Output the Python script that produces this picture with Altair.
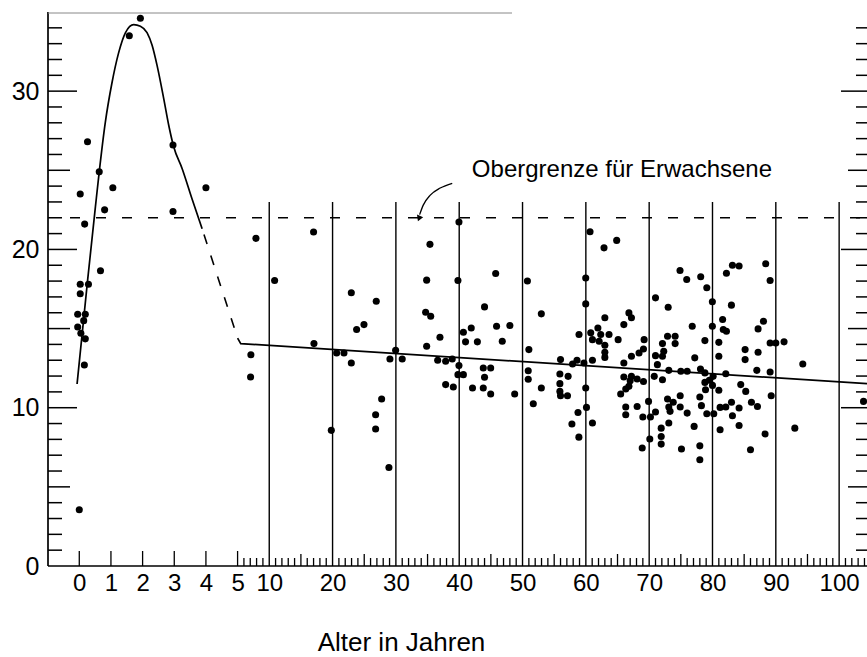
import altair as alt
import pandas as pd

FONT = "Liberation Sans"

# ---------------- data ----------------
infant_age = [0.0, -0.05, 0.19, 0.14, -0.05, 0.05, 0.19, 0.16, 0.03, 0.29, 0.03, 0.67,
              0.17, 0.80, 0.03, 1.06, 0.63, 0.26, 1.58, 1.93, 2.96, 2.96, 4.0]
infant_val = [3.55, 15.9, 15.9, 15.5, 15.1, 14.7, 14.35, 12.7, 17.8, 17.8, 17.2, 18.65,
              21.6, 22.5, 23.5, 23.9, 24.9, 26.8, 33.5, 34.6, 26.6, 22.4, 23.9]

adult_age = [7.1, 7.05, 7.9, 10.85, 17.0, 17.06, 19.8, 20.64, 21.8, 22.96, 22.96, 23.8, 24.96,
             26.9, 27.75, 26.8, 26.8, 28.9, 29.06, 29.96, 31.0, 35.38, 34.86, 34.7, 35.5, 34.86,
             36.96, 36.6, 37.86, 38.9, 39.96, 39.8, 37.86, 39.07, 39.96, 39.8, 40.66, 40.66,
             41.9, 41.0, 42.87, 44.0, 45.76, 45.9, 48.0, 46.8, 42.1, 43.8, 44.97, 44.0, 43.8,
             44.97, 48.76, 50.77, 51.0, 50.9, 50.9, 52.97, 52.97, 51.7,
             60.66, 64.87, 62.87, 59.98, 59.98, 74.87, 75.93, 78.14, 79.1, 82.2, 83.15, 84.2,
             88.4, 89.1, 71.0, 73.0, 79.98, 82.99, 66.8, 67.2, 66.0, 63.0, 61.9, 60.77, 58.92,
             62.35, 63.66, 61.04, 62.1, 63.0, 63.0, 63.0, 65.1, 69.2, 72.9, 74.1, 72.1, 74.1,
             72.3, 72.1, 69.1, 68.4, 67.2, 71.0, 66.0, 71.3, 70.8, 72.1, 73.1, 75.0, 76.0, 77.2,
             78.1, 78.8, 79.98, 81.6, 81.7, 82.2, 78.8, 81.0, 81.0, 82.1, 80.1, 79.5, 78.8,
             80.0, 78.9, 81.0, 78.0, 78.25, 79.1, 80.2, 81.2, 82.1, 83.0, 84.2, 83.15, 84.2,
             81.2, 77.1, 78.0, 78.0, 75.1, 76.0, 74.9, 74.9, 73.8, 73.1, 72.9, 73.3, 73.1,
             71.9, 71.9, 71.9, 70.1, 68.9, 69.9, 71.0, 70.2, 69.0, 68.1, 66.3, 66.3, 65.5,
             66.3, 66.8, 67.0, 66.0, 67.2, 68.1, 69.1, 84.46, 85.25, 85.15, 85.15, 87.2, 87.0,
             89.1, 88.05, 87.2, 89.1, 90.0, 91.3, 94.26, 89.27, 86.15, 87.1, 88.3, 86.0, 93.0,
             103.85, 56.0, 55.9, 55.9, 55.9, 56.0, 57.1, 57.2, 57.9, 58.6, 59.7, 61.04, 59.98,
             60.1, 58.76, 57.8, 58.9, 61.04, 76.8]
adult_val = [13.35, 11.94, 20.7, 18.04, 21.1, 14.05, 8.57, 13.46, 13.46, 12.83, 17.26, 14.94, 15.25,
             16.73, 10.55, 9.56, 8.65, 6.22, 13.08, 13.63, 13.08, 20.32, 18.06, 16.03, 15.78, 13.88,
             14.45, 13.0, 12.93, 13.08, 21.73, 18.04, 11.46, 11.31, 12.66, 12.09, 12.09, 14.77,
             15.04, 14.16, 14.16, 16.37, 18.48, 15.15, 15.19, 14.2, 11.24, 12.51, 12.51, 11.92, 11.24,
             10.87, 10.87, 18.0, 13.67, 12.34, 11.8, 15.93, 11.25, 10.25,
             21.12, 20.57, 20.1, 18.2, 16.56, 18.67, 18.1, 18.27, 17.58, 18.5, 19.0, 18.95,
             19.1, 18.04, 16.94, 16.35, 16.69, 16.48, 15.99, 15.68, 15.25, 15.68, 15.04, 14.73, 14.62,
             14.62, 14.62, 14.3, 14.2, 13.95, 13.5, 13.18, 14.3, 14.3, 14.51, 14.51, 14.05, 14.05,
             13.56, 13.25, 13.71, 13.46, 13.25, 13.29, 12.83, 12.72, 11.98, 11.77, 12.36, 12.3, 12.3, 13.15,
             12.45, 12.2, 15.15, 15.57, 14.94, 14.83, 14.24, 14.13, 13.25, 12.15, 11.98, 11.73, 11.6,
             11.41, 11.14, 11.1, 10.68, 10.13, 9.62, 9.62, 10.02, 10.04, 10.34, 9.98, 9.49, 8.88,
             8.61, 8.82, 7.59, 6.71, 7.39, 9.66, 10.04, 10.76, 10.34, 10.04, 10.55, 9.77, 9.03,
             8.71, 8.18, 7.7, 8.02, 7.45, 10.4, 9.73, 9.41, 9.41, 10.08, 10.04, 9.56, 10.87,
             11.18, 11.35, 11.71, 11.94, 11.98, 11.81, 11.66, 11.46, 11.03, 13.67, 13.04, 13.5, 12.36,
             12.26, 15.46, 14.98, 14.09, 14.09, 14.16, 12.76, 10.76, 10.34, 10.08, 8.34, 7.34, 8.71,
             10.4, 13.04, 12.13, 11.52, 11.03, 10.76, 10.76, 11.98, 12.76, 13.0, 12.83, 13.0, 11.25,
             10.02, 9.7, 8.97, 8.14, 9.03, 15.15]

# infant curve (solid), its dashed continuation, and the adult regression line
curve_age = [-0.07, 0.26, 0.51, 0.63, 0.82, 1.03, 1.24, 1.46, 1.72, 1.93, 2.14, 2.30, 2.46,
             2.67, 2.83, 2.98, 3.25, 3.56, 3.88]
curve_val = [11.5, 18.0, 22.7, 24.9, 28.0, 30.5, 32.4, 33.7, 34.2, 34.1, 33.7, 32.9, 31.6,
             29.5, 27.8, 26.5, 25.1, 23.2, 21.3]
dash_age = [3.88, 5.0]
dash_val = [21.3, 14.4]
regr_age = [5.0, 5.5, 104.4]
regr_val = [14.4, 14.05, 11.52]

limit_val = [22]                      # Obergrenze für Erwachsene
grid_age = [10, 20, 30, 40, 50, 60, 70, 80, 90, 100]

arrow_age = [38.9, 37.0, 35.43, 34.32, 33.75]
arrow_val = [24.18, 23.88, 23.43, 22.8, 22.2]
arrowhead_age = [33.65]
arrowhead_val = [21.95]
note_age = [42.0]
note_val = [24.6]
note_text = ["Obergrenze für Erwachsene"]

# tick positions
xlabel_pos = [0, 5, 10, 15, 20, 25, 30, 40, 50, 60, 70, 80, 90, 100, 110, 120]
infant_tick_age = [0, 1, 2, 3, 4, 5]
minor_tick_age = [a for a in range(6, 105) if a % 5 != 0]
mid_tick_age = [15, 25, 35, 45, 55, 65, 75, 85, 95]
ytick_major = [10, 20, 30]
ytick_mid = [5, 15, 25]
ytick_minor = [v for v in range(1, 35) if v % 5 != 0]

# ---------------- layout ----------------
W, H = 819, 554
x_scale = alt.Scale(domain=[-4.94, 124.4], nice=False, zero=False)
y_scale = alt.Scale(domain=[0, 35], nice=False, zero=False)
XPOS = "datum.age <= 5 ? datum.age * 5 : datum.age + 20"

X_AX = alt.Axis(values=xlabel_pos,
                labelExpr="datum.value <= 25 ? format(datum.value / 5, 'd') : format(datum.value - 20, 'd')",
                domain=False, ticks=False, tickSize=0, grid=False,
                labelFont=FONT, labelFontSize=24, labelColor="black", labelPadding=5,
                labelOverlap=False, labelFlush=False, labelBound=False,
                title="Alter in Jahren", titleFont=FONT, titleFontSize=26, titleFontWeight="normal",
                titleColor="black", titleX=353, titleY=84, titleAlign="center", titleBaseline="alphabetic")
Y_AX = alt.Axis(values=[0, 10, 20, 30], domain=False, ticks=False, tickSize=0, grid=False,
                labelFont=FONT, labelFontSize=25, labelColor="black", labelPadding=9,
                title="")


def xf():
    return alt.X("xpos:Q", scale=x_scale, axis=X_AX)


def yf(field="val"):
    return alt.Y(f"{field}:Q", scale=y_scale, axis=Y_AX)


def agedf(ages, vals=None):
    d = {"age": ages}
    if vals is not None:
        d["val"] = vals
    return pd.DataFrame(d)


layers = []

# vertical lines every 10 years
layers.append(
    alt.Chart(agedf(grid_age)).transform_calculate(xpos=XPOS, y0="0", y1="23")
    .mark_rule(color="black", strokeWidth=1.4)
    .encode(x=xf(), y=alt.Y("y0:Q", scale=y_scale, axis=Y_AX), y2="y1:Q")
)

# x ticks (pointing up)
for ages, ln in [(infant_tick_age, 15), (minor_tick_age, 8), (mid_tick_age, 12)]:
    layers.append(
        alt.Chart(agedf(ages)).transform_calculate(xpos=XPOS)
        .mark_rule(color="black", strokeWidth=1.3)
        .encode(x=xf(), y=alt.value(H), y2=alt.value(H - ln))
    )

# y ticks left (pointing right) and right (pointing left)
for vals, ln_l, ln_r in [(ytick_major, 29, 26), (ytick_mid, 22, 19), (ytick_minor, 14, 11)]:
    df = pd.DataFrame({"v": vals})
    layers.append(
        alt.Chart(df).mark_rule(color="black", strokeWidth=1.5)
        .encode(y=yf("v"), x=alt.value(0), x2=alt.value(ln_l))
    )
    layers.append(
        alt.Chart(df).mark_rule(color="black", strokeWidth=1.5)
        .encode(y=yf("v"), x=alt.value(W), x2=alt.value(W - ln_r))
    )

# axis lines and partial top border
layers.append(alt.Chart().mark_rule(color="black", strokeWidth=1.7)
              .encode(x=alt.value(0), y=alt.value(0), y2=alt.value(H)))
layers.append(alt.Chart().mark_rule(color="black", strokeWidth=1.7)
              .encode(y=alt.value(H), x=alt.value(0), x2=alt.value(W)))
layers.append(alt.Chart().mark_rule(color="#888888", strokeWidth=1)
              .encode(y=alt.value(1), x=alt.value(0), x2=alt.value(464)))

# dashed upper limit
layers.append(
    alt.Chart(pd.DataFrame({"v": limit_val}))
    .mark_rule(color="black", strokeWidth=1.4, strokeDash=[10, 16])
    .encode(y=yf("v"), x=alt.value(22), x2=alt.value(W))
)

# infant curve
layers.append(
    alt.Chart(agedf(curve_age, curve_val)).transform_calculate(xpos=XPOS)
    .mark_line(color="black", strokeWidth=1.7, interpolate="monotone")
    .encode(x=xf(), y=yf())
)
layers.append(
    alt.Chart(agedf(dash_age, dash_val)).transform_calculate(xpos=XPOS)
    .mark_line(color="black", strokeWidth=1.6, strokeDash=[10, 12], strokeDashOffset=16)
    .encode(x=xf(), y=yf())
)
layers.append(
    alt.Chart(agedf(regr_age, regr_val)).transform_calculate(xpos=XPOS)
    .mark_line(color="black", strokeWidth=1.7)
    .encode(x=xf(), y=yf())
)

# points
pts = pd.concat([agedf(infant_age, infant_val), agedf(adult_age, adult_val)], ignore_index=True)
layers.append(
    alt.Chart(pts).transform_calculate(xpos=XPOS)
    .mark_circle(color="black", size=50, opacity=1)
    .encode(x=xf(), y=yf())
)

# annotation
layers.append(
    alt.Chart(pd.DataFrame({"age": note_age, "val": note_val, "t": note_text}))
    .transform_calculate(xpos=XPOS)
    .mark_text(font=FONT, fontSize=24, color="black", align="left", baseline="alphabetic")
    .encode(x=xf(), y=yf(), text="t:N")
)
layers.append(
    alt.Chart(agedf(arrow_age, arrow_val)).transform_calculate(xpos=XPOS)
    .mark_line(color="black", strokeWidth=1.3, interpolate="monotone")
    .encode(x=xf(), y=yf())
)
layers.append(
    alt.Chart(agedf(arrowhead_age, arrowhead_val)).transform_calculate(xpos=XPOS)
    .mark_point(shape="triangle-down", filled=True, color="black", size=45, angle=22, opacity=1)
    .encode(x=xf(), y=yf())
)

chart = (
    alt.layer(*layers)
    .properties(width=W, height=H,
                padding={"left": 48, "top": 12, "right": 0, "bottom": 91},
                autosize=alt.AutoSizeParams(type="none"),
                background="white")
    .configure_view(stroke="transparent")
)

chart.save("out.html", embed_options={"renderer": "svg", "actions": False})
